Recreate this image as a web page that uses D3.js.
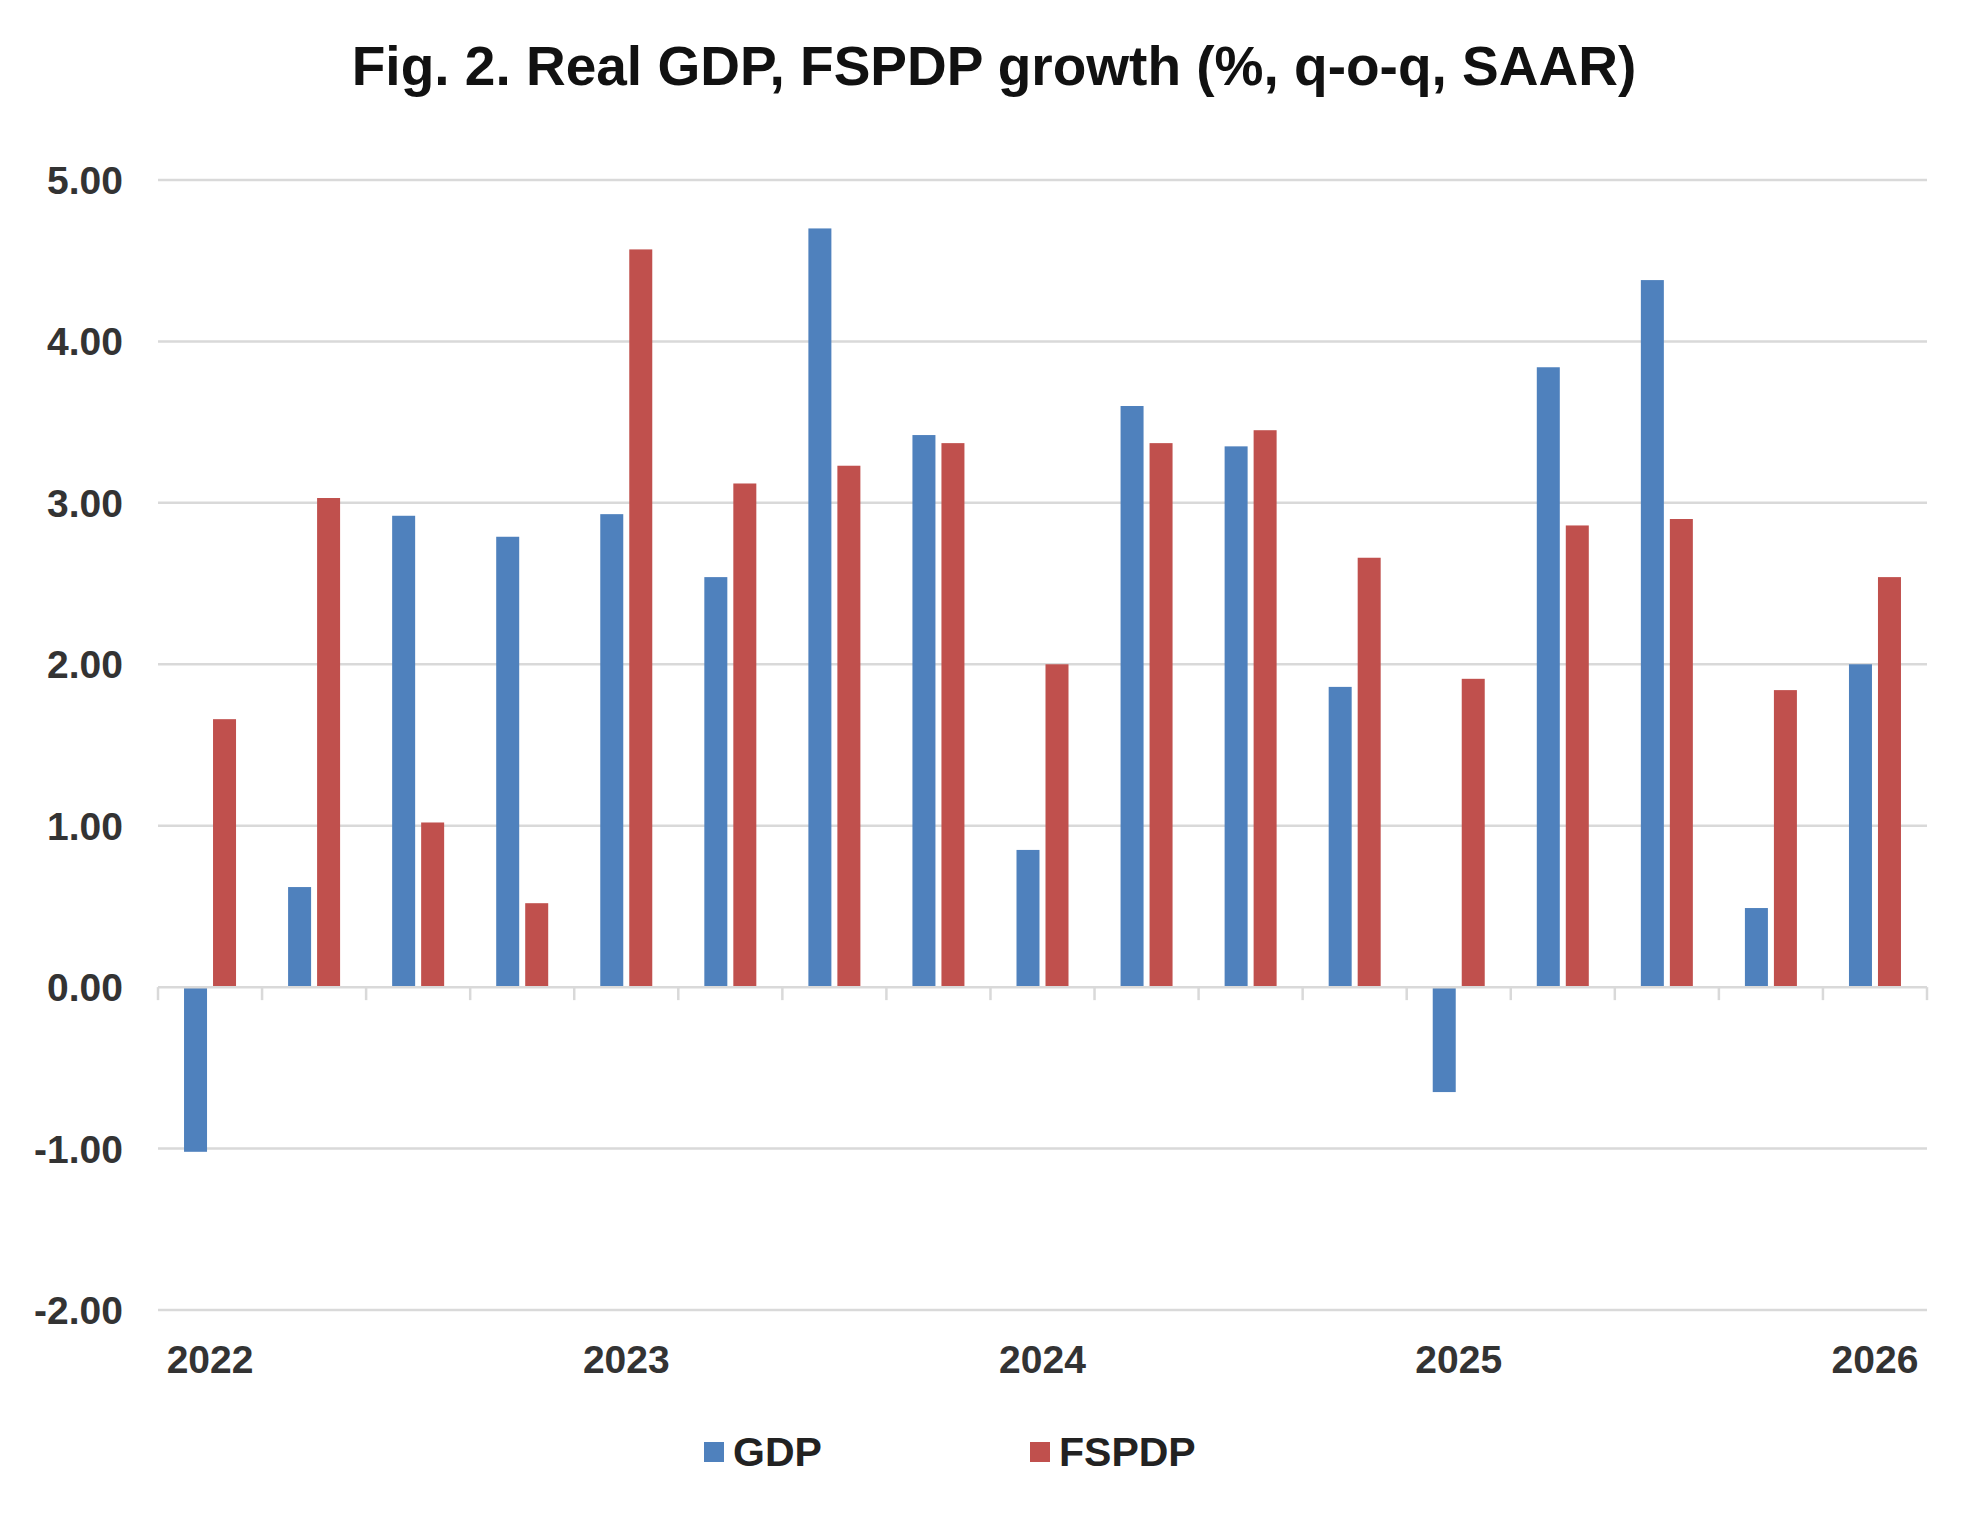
<!DOCTYPE html><html><head><meta charset="utf-8"><script src="https://d3js.org/d3.v7.min.js"></script>
<style>body{margin:0;background:#fff}</style></head><body><svg id="c" width="1987" height="1522"></svg><script>
const categories=["2022","","","","2023","","","","2024","","","","2025","","","","2026"];
const gdp=[-1.02,0.62,2.92,2.79,2.93,2.54,4.70,3.42,0.85,3.60,3.35,1.86,-0.65,3.84,4.38,0.49,2.00];
const fspdp=[1.66,3.03,1.02,0.52,4.57,3.12,3.23,3.37,2.00,3.37,3.45,2.66,1.91,2.86,2.90,1.84,2.54];
const yTicks=[-2,-1,0,1,2,3,4,5];
const series=[{name:"GDP",values:gdp,color:"#4F81BD"},{name:"FSPDP",values:fspdp,color:"#C0504D"}];
const svg=d3.select("#c"),F="'Liberation Sans',Arial,sans-serif";
const L=158,R=1927,T=180,B=1310;
const x=d3.scaleBand().domain(d3.range(categories.length)).range([L,R]);
const y=d3.scaleLinear().domain([-2,5]).range([B,T]);
const bw=23,gap=6;
svg.append("text").attr("x",994).attr("y",85).attr("text-anchor","middle").attr("font-family",F).attr("font-weight","bold").attr("font-size",55).attr("fill","#111").text("Fig. 2. Real GDP, FSPDP growth (%, q-o-q, SAAR)");
svg.append("g").selectAll("line").data(yTicks.filter(d=>d!==0)).join("line").attr("x1",L).attr("x2",R).attr("y1",d=>y(d)).attr("y2",d=>y(d)).attr("stroke","#d9d9d9").attr("stroke-width",2.5);
svg.append("g").selectAll("text").data(yTicks).join("text").attr("x",123).attr("y",d=>y(d)+14).attr("text-anchor","end").attr("font-family",F).attr("font-weight","bold").attr("font-size",39).attr("fill","#333").text(d=>d.toFixed(2));
series.forEach((s,si)=>{
 svg.append("g").selectAll("rect").data(s.values).join("rect")
 .attr("x",(d,i)=>x(i)+x.bandwidth()/2+(si===0?-bw-gap/2:gap/2)).attr("width",bw)
 .attr("y",d=>y(Math.max(0,d))).attr("height",d=>Math.abs(y(d)-y(0))).attr("fill",s.color);
});
svg.append("line").attr("x1",L).attr("x2",R).attr("y1",y(0)).attr("y2",y(0)).attr("stroke","#d9d9d9").attr("stroke-width",2.5);
svg.append("g").selectAll("line").data(d3.range(categories.length+1)).join("line").attr("x1",i=>L+i*x.step()).attr("x2",i=>L+i*x.step()).attr("y1",y(0)).attr("y2",y(0)+13).attr("stroke","#d9d9d9").attr("stroke-width",2.5);
svg.append("g").selectAll("text").data(categories).join("text").attr("x",(d,i)=>x(i)+x.bandwidth()/2).attr("y",1373).attr("text-anchor","middle").attr("font-family",F).attr("font-weight","bold").attr("font-size",39).attr("fill","#333").text(d=>d);
const lg=[{x:704},{x:1030}];
series.forEach((s,i)=>{
 svg.append("rect").attr("x",lg[i].x).attr("y",1442).attr("width",20).attr("height",20).attr("fill",s.color);
 svg.append("text").attr("x",lg[i].x+29).attr("y",1466).attr("font-family",F).attr("font-weight","bold").attr("font-size",41).attr("fill","#222").text(s.name);
});
</script></body></html>
